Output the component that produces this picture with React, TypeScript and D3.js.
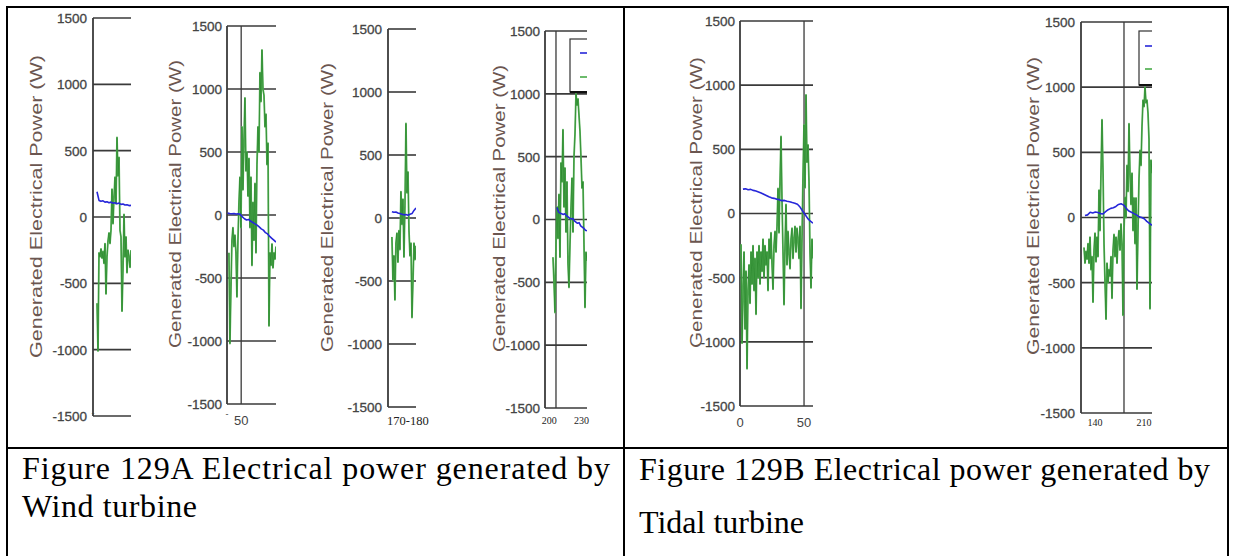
import React from 'react';
import * as d3 from 'd3';

// ---------- shared axis content ----------
const yTicks = [1500, 1000, 500, 0, -500, -1000, -1500];
const yTitle = 'Generated Electrical Power (W)';
const captionA = ['Figure 129A Electrical power generated by', 'Wind  turbine'];
const captionB = ['Figure 129B Electrical power generated by', 'Tidal turbine'];

// ---------- Panel 1 (wind, first crop) ----------
const p1Domain = [0, 38];
const p1GreenSpan = [4, 38];
const p1Green = [-650, -1010, -270, -300, -240, -310, -260, -350, -200, -580, -300, -180, -120, -200, -100, 210, -50, 150, 300, 100, 600, 310, 450, -100, -150, -710, -400, 20, -300, -150, -420, -250, -300, -380, -250];
const p1BlueSpan = [4, 38];
const p1Blue = [190, 125, 118, 122, 112, 115, 108, 112, 104, 108, 100, 105, 95, 98, 90, 92, 86, 88];
const p1GridX: number[] = [];
const p1XLabels = [{ v: 0, t: '-' }];

// ---------- Panel 2 ----------
const p2Domain = [39, 77];
const p2GreenSpan = [40.5, 77];
const p2Green = [-300, -1020, -600, -200, -100, -250, -160, -300, -650, -200, 100, 300, -100, 700, 200, 600, 930, 350, 500, 150, 450, -100, 300, -400, 100, -200, 250, -300, 400, 700, 500, 1130, 900, 1310, 1000, 950, 700, 800, 400, 570, -880, -300, -400, -230, -420, -300, -350, -250];
const p2BlueSpan = [39.5, 77];
const p2Blue = [15, 12, 10, 12, 8, 10, 5, -15, -30, -40, -35, -50, -60, -70, -80, -95, -110, -120, -140, -150, -170, -185, -200, -215];
const p2GridX = [50];
const p2XLabels = [{ v: 39, t: '-' }, { v: 50, t: '50' }];

// ---------- Panel 3 ----------
const p3Domain = [170, 180];
const p3GreenSpan = [171.4, 180];
const p3Green = [-150, -490, -300, -650, -200, -120, -350, -100, -250, 210, -50, 150, -310, 100, 750, 200, 365, -100, -300, -200, -790, -500, -200, -330, -220];
const p3BlueSpan = [171.4, 180];
const p3Blue = [50, 45, 48, 40, 35, 30, 25, 28, 22, 30, 35, 60, 80];
const p3GridX: number[] = [];
const p3XLabels = [{ v: 177.1, t: '170-180' }];

// ---------- Panel 4 ----------
const p4Domain = [196, 235];
const p4GreenSpan = [203.4, 235];
const p4Green = [-300, -500, -740, -200, 100, -150, 200, -300, 450, 300, 715, 100, 410, -100, 300, -350, -540, -200, 95, 330, -100, 500, 680, 1000, 910, 960, 830, 700, 490, 250, 300, -200, -700, -260, -330];
const p4BlueSpan = [207.1, 235];
const p4Blue = [95, 60, 50, 45, 40, 45, 30, 20, 10, 5, 8, -10, -20, -30, -25, -50, -60, -70, -85, -90];
const p4GridX = [206.2];
const p4XLabels = [{ v: 200, t: '200' }, { v: 230, t: '230' }];

// ---------- Panel 5 (tidal, first crop) ----------
const p5Domain = [0, 57];
const p5GreenSpan = [0.8, 57];
const p5Green = [-240, -1010, -630, -300, -900, -450, -1210, -600, -400, -700, -300, -550, -250, -600, -350, -785, -300, -500, -250, -550, -300, -450, -200, -500, -250, -400, -300, -600, -200, -350, -150, -400, -590, -250, -140, -300, -100, 195, -150, 250, 600, 100, -300, -710, -250, 70, -400, -140, -300, -430, -200, -115, -350, -200, -100, -300, -115, -200, -350, -100, -740, -200, 300, 690, 200, 925, 400, 535, 250, -300, -580, -200, -350];
const p5BlueSpan = [2.3, 57];
const p5Blue = [190, 192, 185, 188, 180, 175, 168, 160, 150, 140, 130, 122, 118, 112, 108, 100, 102, 96, 92, 85, 80, 72, 50, 20, -10, -40, -60, -75];
const p5GridX = [50];
const p5XLabels = [{ v: 0, t: '0' }, { v: 50, t: '50' }];

// ---------- Panel 6 ----------
const p6Domain = [120, 221.4];
const p6GreenSpan = [124.3, 221.4];
const p6Green = [-230, -350, -260, -320, -200, -350, -150, -400, -300, -650, -250, -120, -340, -150, -300, 210, -100, 350, 750, 360, -200, -500, -780, -350, -500, -400, -450, -300, -620, -250, -130, -300, -150, -350, -180, -100, -250, -50, -200, -750, -100, 155, 0, 400, 200, 720, 340, 100, 340, -100, 150, -200, 150, -550, -100, 300, 515, 400, 700, 900, 850, 1000, 880, 900, 800, 600, -700, 440, 340];
const p6BlueSpan = [125.7, 221.4];
const p6Blue = [15, 20, 40, 35, 42, 38, 30, 28, 45, 60, 70, 75, 85, 100, 105, 95, 70, 50, 40, 30, 20, 5, 0, -10, -30, -45, -60];
const p6GridX = [181.4];
const p6XLabels = [{ v: 140, t: '140' }, { v: 210, t: '210' }];

// ---------- layout (positions only) ----------
const panels = [
  { domain: p1Domain, green: p1Green, gSpan: p1GreenSpan, blue: p1Blue, bSpan: p1BlueSpan, gridX: p1GridX, xLabels: p1XLabels,
    ax: 93, rx: 131, yTop: 18, yBot: 416, titleX: 42, titleTop: 55, titleBot: 358, labelRight: 87, xlabStyle: 'mark', xlabY: 424, legend: null },
  { domain: p2Domain, green: p2Green, gSpan: p2GreenSpan, blue: p2Blue, bSpan: p2BlueSpan, gridX: p2GridX, xLabels: p2XLabels,
    ax: 227, rx: 276, yTop: 26, yBot: 404, titleX: 181, titleTop: 60, titleBot: 348, labelRight: 222, xlabStyle: 'sans', xlabY: 425, legend: null },
  { domain: p3Domain, green: p3Green, gSpan: p3GreenSpan, blue: p3Blue, bSpan: p3BlueSpan, gridX: p3GridX, xLabels: p3XLabels,
    ax: 388, rx: 416, yTop: 29, yBot: 407, titleX: 333, titleTop: 63, titleBot: 352, labelRight: 382, xlabStyle: 'serif12', xlabY: 425, legend: null },
  { domain: p4Domain, green: p4Green, gSpan: p4GreenSpan, blue: p4Blue, bSpan: p4BlueSpan, gridX: p4GridX, xLabels: p4XLabels,
    ax: 545, rx: 587, yTop: 31, yBot: 408, titleX: 505, titleTop: 65, titleBot: 352, labelRight: 540, xlabStyle: 'serif10', xlabY: 424,
    legend: { x: 570, y: 39, b: 92, m1: 53, m2: 77, lx: 580 } },
  { domain: p5Domain, green: p5Green, gSpan: p5GreenSpan, blue: p5Blue, bSpan: p5BlueSpan, gridX: p5GridX, xLabels: p5XLabels,
    ax: 740, rx: 813, yTop: 21, yBot: 406, titleX: 702, titleTop: 57, titleBot: 348, labelRight: 735, xlabStyle: 'sans', xlabY: 427, legend: null },
  { domain: p6Domain, green: p6Green, gSpan: p6GreenSpan, blue: p6Blue, bSpan: p6BlueSpan, gridX: p6GridX, xLabels: p6XLabels,
    ax: 1081, rx: 1152, yTop: 22, yBot: 413, titleX: 1039, titleTop: 57, titleBot: 355, labelRight: 1075, xlabStyle: 'serif10', xlabY: 426,
    legend: { x: 1139, y: 31, b: 85, m1: 46, m2: 69, lx: 1145 } },
];

const GRID = '#3a3a3a';
const GREEN_LIGHT = '#5cb45c';
const GREEN_DARK = '#17761a';
const BLUE = '#2626d9';
const SANS = "'Liberation Sans', Arial, Helvetica, sans-serif";
const SERIF = "'Liberation Serif', 'Times New Roman', Times, serif";

function toPoints(vals: number[], span: number[]) {
  return vals.map((v, k) => [span[0] + ((span[1] - span[0]) * k) / (vals.length - 1), v] as [number, number]);
}

function Panel({ p, i }: { p: any; i: number }) {
  const x = d3.scaleLinear().domain(p.domain).range([p.ax, p.rx]);
  const y = d3.scaleLinear().domain([-1500, 1500]).range([p.yBot, p.yTop]);
  const line = d3.line<[number, number]>().x((d) => x(d[0])).y((d) => y(d[1]));
  const clipId = `clip-${i}`;
  const cy = (p.titleTop + p.titleBot) / 2;
  const isSans = p.xlabStyle === 'sans' || p.xlabStyle === 'mark';
  const xlabFamily = isSans ? SANS : SERIF;
  const xlabSize = isSans ? 13 : p.xlabStyle === 'serif12' ? 12.5 : 10;
  const xlabFill = isSans ? '#444' : '#222';
  const greenPath = line(toPoints(p.green, p.gSpan)) || '';
  return (
    <g>
      <defs>
        <clipPath id={clipId}>
          <rect x={p.ax} y={p.yTop - 1} width={p.rx - p.ax} height={p.yBot - p.yTop + 2} />
        </clipPath>
      </defs>
      <text
        transform={`translate(${p.titleX},${cy}) rotate(-90)`}
        textAnchor="middle"
        style={{ fontFamily: SANS }}
        fontSize={17}
        fill="#6b5650"
        textLength={p.titleBot - p.titleTop}
        lengthAdjust="spacingAndGlyphs"
      >
        {yTitle}
      </text>
      {yTicks.map((t) => (
        <line key={t} x1={p.ax} x2={p.rx} y1={y(t)} y2={y(t)} stroke={GRID} strokeWidth={1.6} />
      ))}
      {p.gridX.map((g: number) => (
        <line key={g} x1={x(g)} x2={x(g)} y1={p.yTop} y2={p.yBot} stroke={GRID} strokeWidth={1.3} />
      ))}
      <line x1={p.ax} x2={p.ax} y1={p.yTop} y2={p.yBot} stroke={GRID} strokeWidth={1.8} />
      {yTicks.map((t) => (
        <text
          key={t}
          x={p.labelRight}
          y={y(t)}
          dy="0.36em"
          textAnchor="end"
          style={{ fontFamily: SANS }}
          fontSize={13.5}
          fill="#444"
          stroke="#444"
          strokeWidth={0.3}
        >
          {String(t)}
        </text>
      ))}
      {p.xLabels.map((l: any) => (
        <text
          key={l.t + l.v}
          x={x(l.v)}
          y={l.t === '-' ? p.xlabY - 8 : p.xlabY}
          textAnchor="middle"
          style={{ fontFamily: xlabFamily }}
          fontSize={l.t === '-' ? 9 : xlabSize}
          fill={xlabFill}
        >
          {l.t}
        </text>
      ))}
      <g clipPath={`url(#${clipId})`}>
        <path d={greenPath} fill="none" stroke={GREEN_LIGHT} strokeWidth={1.8} strokeLinejoin="round" />
        <path d={greenPath} fill="none" stroke={GREEN_DARK} strokeWidth={0.7} strokeOpacity={0.75} strokeLinejoin="round" />
        <path d={line(toPoints(p.blue, p.bSpan)) || ''} fill="none" stroke={BLUE} strokeWidth={1.6} strokeLinejoin="round" />
        {p.legend && (
          <g>
            <rect x={p.legend.x} y={p.legend.y} width={p.rx - p.legend.x + 5} height={p.legend.b - p.legend.y} fill="#fff" stroke="#333" strokeWidth={1.2} />
            <line x1={p.legend.x} x2={p.rx} y1={p.legend.b} y2={p.legend.b} stroke="#111" strokeWidth={2} />
            <line x1={p.legend.lx} x2={p.rx} y1={p.legend.m1} y2={p.legend.m1} stroke={BLUE} strokeWidth={1.6} />
            <line x1={p.legend.lx} x2={p.rx} y1={p.legend.m2} y2={p.legend.m2} stroke={GREEN_LIGHT} strokeWidth={1.8} />
          </g>
        )}
      </g>
    </g>
  );
}

export default function App() {
  const cap = { fontFamily: SERIF };
  return (
    <svg width={1235} height={556} style={{ position: 'absolute', left: 0, top: 0, background: '#fff' }}>
      <rect x={0} y={0} width={1235} height={556} fill="#fff" />
      {panels.map((p, i) => (
        <Panel key={i} p={p} i={i} />
      ))}
      <g stroke="#000" strokeWidth={2}>
        <line x1={6} x2={1229} y1={7} y2={7} />
        <line x1={7} x2={7} y1={6} y2={556} />
        <line x1={624} x2={624} y1={6} y2={556} />
        <line x1={1228} x2={1228} y1={6} y2={556} />
        <line x1={6} x2={1229} y1={448} y2={448} />
      </g>
      <text x={22} y={479} style={cap} fontSize={32} fill="#000" textLength={588} lengthAdjust="spacing">
        {captionA[0]}
      </text>
      <text x={22} y={517} style={cap} fontSize={32} fill="#000" textLength={175} lengthAdjust="spacing">
        {captionA[1]}
      </text>
      <text x={639} y={480} style={cap} fontSize={32} fill="#000" textLength={571} lengthAdjust="spacing">
        {captionB[0]}
      </text>
      <text x={639} y={533} style={cap} fontSize={32} fill="#000">
        {captionB[1]}
      </text>
    </svg>
  );
}
